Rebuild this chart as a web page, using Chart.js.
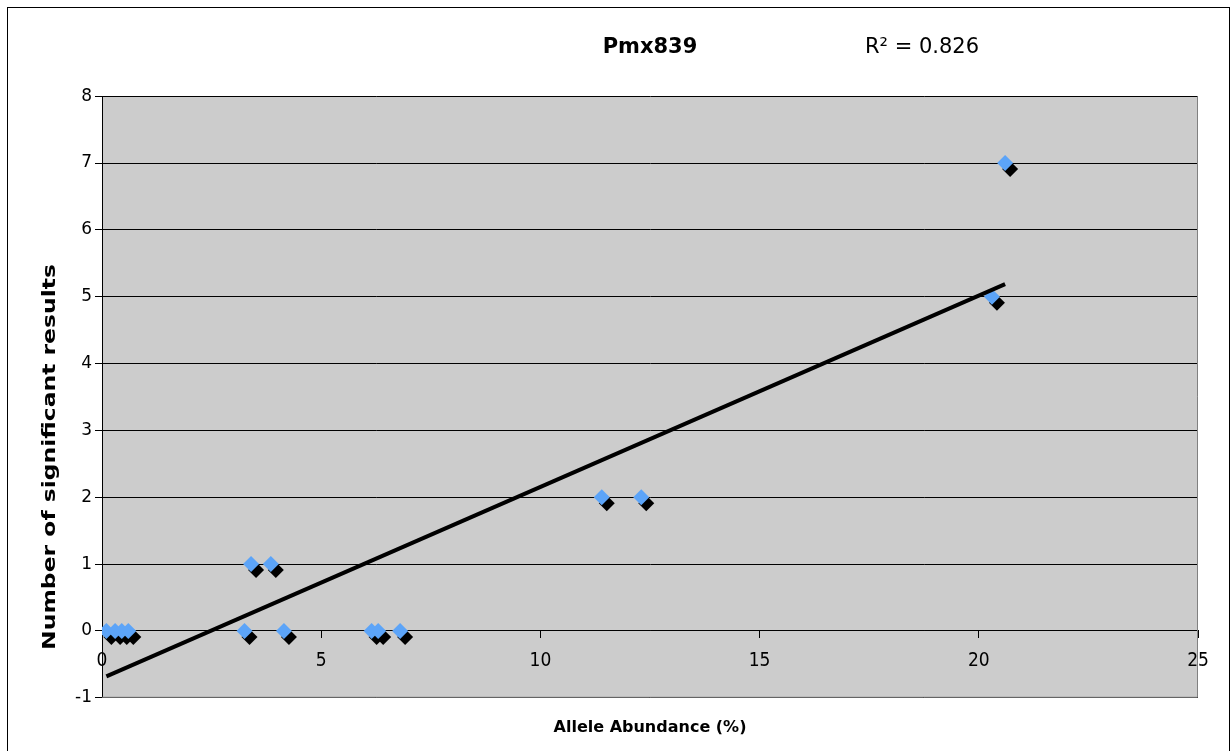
<!DOCTYPE html>
<html>
<head>
<meta charset="utf-8">
<script src="https://cdn.jsdelivr.net/npm/chart.js@4"></script>
<style>
html,body{margin:0;padding:0;background:#fff;}
#wrap{width:1232px;height:751px;position:relative;}
</style>
</head>
<body>
<div id="wrap"><canvas id="chart"></canvas></div>
<script>
// ===============================
// Data
// ===============================
const abundance  = [0.1,0.3,0.45,0.6,3.25,3.4,3.85,4.15,6.15,6.3,6.8,11.4,12.3,20.3,20.6];
const sigResults = [0,0,0,0,0,1,1,0,0,0,0,2,2,5,7];
const xTicks = [0,5,10,15,20,25];
const yTicks = [-1,0,1,2,3,4,5,6,7,8];
const chartTitle = "Pmx839";
const rSquaredText = "R² = 0.826";
const xTitle = "Allele Abundance (%)";
const yTitle = "Number of significant results";

// linear trend line (least squares), drawn between smallest and largest x
function linearFit(xs, ys){
    const n = xs.length;
    const mx = xs.reduce((a,b)=>a+b,0)/n;
    const my = ys.reduce((a,b)=>a+b,0)/n;
    let sxy = 0, sxx = 0;
    for(let i=0;i<n;i++){
        sxy += (xs[i]-mx)*(ys[i]-my);
        sxx += (xs[i]-mx)*(xs[i]-mx);
    }
    const slope = sxy/sxx;
    return {slope, intercept: my - slope*mx};
}
const fit = linearFit(abundance, sigResults);
const xLo = Math.min(...abundance), xHi = Math.max(...abundance);
const trendPoints = [xLo, xHi].map(x => ({x, y: fit.intercept + fit.slope*x}));
const points = abundance.map((x,i) => ({x, y: sigResults[i]}));

// ===============================
// Plugins: background, frame, shadow, extra text
// ===============================
const framePlugin = {
    id:"frame",
    beforeDraw(chart){
        const {ctx, chartArea:a} = chart;
        ctx.save();
        ctx.fillStyle = "#fff";
        ctx.fillRect(0,0,chart.width,chart.height);
        ctx.fillStyle = "#cccccc";
        ctx.fillRect(a.left,a.top,a.right-a.left,a.bottom-a.top);
        ctx.strokeStyle = "#000";
        ctx.lineWidth = 1;
        ctx.strokeRect(7.5,7.5,chart.width-10,chart.height+10);
        ctx.restore();
    },
    beforeDatasetsDraw(chart){
        const {ctx, chartArea:a} = chart;
        ctx.save();
        ctx.strokeStyle = "#808080";
        ctx.lineWidth = 1;
        ctx.beginPath();
        ctx.moveTo(a.left, a.bottom-0.5);
        ctx.lineTo(a.right-0.5, a.bottom-0.5);
        ctx.lineTo(a.right-0.5, a.top);
        ctx.stroke();
        ctx.restore();
    },
    afterDraw(chart){
        const {ctx} = chart;
        ctx.save();
        ctx.fillStyle = "#000";
        ctx.font = "21px 'DejaVu Sans'";
        ctx.textAlign = "left";
        ctx.textBaseline = "middle";
        ctx.fillText(rSquaredText, 865, 48);
        // y axis title, stretched along its length like the original
        ctx.translate(51, 457);
        ctx.rotate(-Math.PI/2);
        ctx.scale(1.38, 1);
        ctx.textAlign = "center";
        ctx.font = "bold 17px 'DejaVu Sans'";
        ctx.fillText(yTitle, 0, 0);
        ctx.restore();
    }
};

const shadowPlugin = {
    id:"shadow",
    beforeDatasetDraw(chart, args){
        if(args.index !== 1) return;
        const ctx = chart.ctx;
        ctx.save();
        ctx.shadowColor = "#000";
        ctx.shadowOffsetX = 5;
        ctx.shadowOffsetY = 6;
        ctx.shadowBlur = 0;
    },
    afterDatasetDraw(chart, args){
        if(args.index !== 1) return;
        chart.ctx.restore();
    }
};

// ===============================
// Chart
// ===============================
const ctx = document.getElementById("chart").getContext("2d");
const chart = new Chart(ctx, {
    type:"scatter",
    data:{
        datasets:[
            {
                label:"Linear trend",
                data: trendPoints,
                showLine:true,
                borderColor:"#000",
                borderWidth:4,
                pointRadius:0,
                fill:false
            },
            {
                label:"Pmx839",
                data: points,
                pointStyle:"rectRot",
                pointRadius:8,
                pointBackgroundColor:"#5ca4f8",
                pointBorderWidth:0,
                showLine:false
            }
        ]
    },
    options:{
        responsive:true,
        maintainAspectRatio:false,
        animation:false,
        events:[],
        layout:{padding:{left:0, right:34, top:0, bottom:14}},
        plugins:{
            legend:{display:false},
            tooltip:{enabled:false},
            title:{
                display:true,
                fullSize:false,
                text:chartTitle,
                color:"#000",
                font:{family:"'DejaVu Sans'", size:21, weight:"bold", lineHeight:1.2},
                padding:{top:35, bottom:36}
            },
            subtitle:{
                display:true,
                position:"bottom",
                fullSize:false,
                text:xTitle,
                color:"#000",
                font:{family:"'DejaVu Sans'", size:16, weight:"bold", lineHeight:1.2},
                padding:{top:20, bottom:0}
            }
        },
        scales:{
            x:{
                type:"linear",
                position:{y:0},
                min:xTicks[0],
                max:xTicks[xTicks.length-1],
                afterBuildTicks: s => { s.ticks = xTicks.map(v => ({value:v})); },
                grid:{drawOnChartArea:false, drawTicks:true, tickLength:7, color:"#000"},
                border:{color:"#000", width:1},
                ticks:{
                    color:"#000",
                    padding:12,
                    maxRotation:0,
                    font:{family:"'Liberation Sans Narrow','DejaVu Sans Condensed','DejaVu Sans'", size:19}
                }
            },
            y:{
                min:yTicks[0],
                max:yTicks[yTicks.length-1],
                afterBuildTicks: s => { s.ticks = yTicks.map(v => ({value:v})); },
                afterFit: s => { s.width = 102; },
                grid:{color:"#000", lineWidth:1, drawTicks:true, tickLength:7},
                border:{color:"#000", width:1},
                ticks:{
                    color:"#000",
                    padding:3,
                    font:{family:"'DejaVu Sans'", size:17}
                }
            }
        }
    },
    plugins:[framePlugin, shadowPlugin]
});
</script>
</body>
</html>
